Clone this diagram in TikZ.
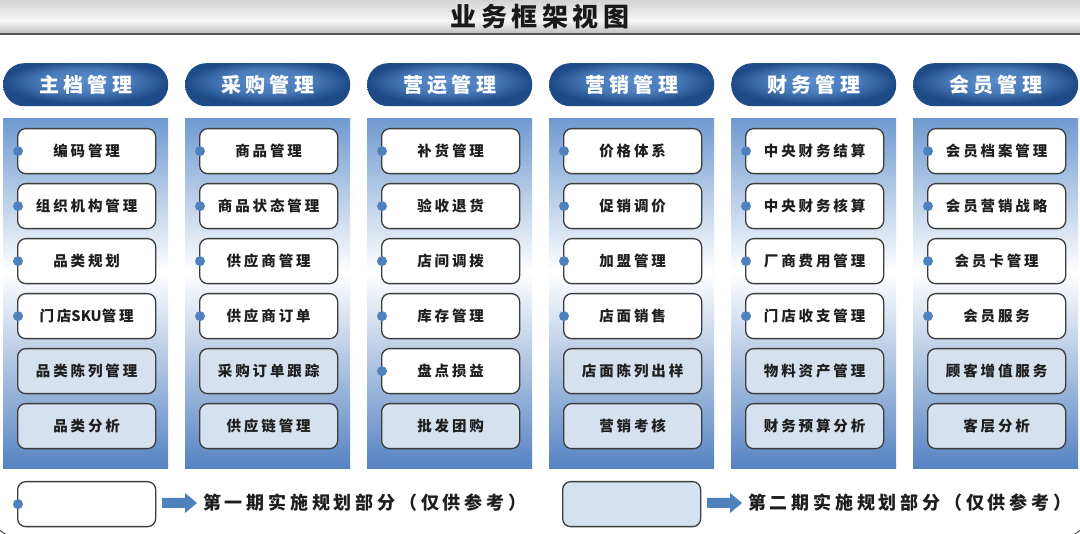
\documentclass[tikz,border=0pt]{standalone}
\usepackage{fontspec}
\setmainfont{Noto Sans CJK SC}
\newfontfamily\titlefont[LetterSpace=17]{Noto Sans CJK SC}
\newfontfamily\hdrfont[LetterSpace=22]{Noto Sans CJK SC}
\newfontfamily\itemfont[LetterSpace=20]{Noto Sans CJK SC}
\newfontfamily\latinfont{Noto Sans CJK SC}
\newfontfamily\legfont[LetterSpace=21]{Noto Sans CJK SC}
\usetikzlibrary{calc}
\definecolor{pilllight}{HTML}{5A8DCC}
\definecolor{pilldark}{HTML}{1E4B88}
\definecolor{paneltop}{HTML}{6F9AD0}
\definecolor{panelbot}{HTML}{5683C2}
\definecolor{phase2}{HTML}{D6E1F0}
\definecolor{dotblue}{HTML}{4F81BD}
\definecolor{boxline}{HTML}{3C3C3C}
\definecolor{itemtext}{HTML}{1E1E1E}
\definecolor{bartop}{HTML}{D4D4D4}
\definecolor{barmid}{HTML}{F6F6F6}
\definecolor{barbot}{HTML}{BEBEBE}
\definecolor{framegray}{HTML}{555555}
\pgfdeclareverticalshading{panelshade}{100bp}{color(0bp)=(panelbot); color(25bp)=(panelbot); color(53bp)=(white); color(75bp)=(paneltop); color(100bp)=(paneltop)}
\pgfdeclareverticalshading{barshade}{100bp}{color(0bp)=(barbot); color(25bp)=(barbot); color(45bp)=(barmid); color(75bp)=(bartop); color(100bp)=(bartop)}
\pgfdeclareradialshading{pillshade}{\pgfpoint{0bp}{6bp}}{color(0bp)=(pilllight); color(14bp)=(pilllight!70!pilldark); color(25bp)=(pilldark); color(50bp)=(pilldark)}
\begin{document}
\begin{tikzpicture}[x=1pt,y=-1pt,
  titlebar/.style={rectangle, minimum width=1080pt, minimum height=34pt, inner sep=0pt, shading=barshade},
  titletext/.style={font=\titlefont\bfseries\fontsize{26}{30}\selectfont, text=black!90, inner sep=0pt},
  pill/.style={rectangle, rounded corners=21pt, minimum width=165pt, minimum height=43pt, inner sep=0pt, anchor=north west, shading=pillshade, text=white, font=\hdrfont\bfseries\fontsize{20}{24}\selectfont},
  panel/.style={rectangle, minimum width=165pt, minimum height=350pt, inner sep=0pt, anchor=north west, shading=panelshade},
  item/.style={rectangle, rounded corners=8pt, draw=boxline, line width=1.3pt, minimum width=138pt, minimum height=45pt, inner sep=0pt, anchor=north west, text=itemtext, font=\itemfont\bfseries\fontsize{14.5}{17}\selectfont},
  legtext/.style={anchor=west, inner sep=0pt, text=itemtext, font=\legfont\bfseries\fontsize{18}{22}\selectfont},
  blockarrow/.style={fill=dotblue}
]
\useasboundingbox (0,0) rectangle (1080,534);
\fill[white] (0,0) rectangle (1080,534);
% title bar
\node[titlebar] (bar) at (540,17) {};
\draw[line width=1.5pt, draw=framegray] (bar.south west) -- (bar.south east);
\node[titletext] (title) at (540,17) {业务框架视图};
% columns
\foreach \hd/\n/\items [count=\i from 0] in {
  主档管理/4/{编码管理,组织机构管理,品类规划,门店{\latinfont\bfseries SKU}管理,品类陈列管理,品类分析},
  采购管理/4/{商品管理,商品状态管理,供应商管理,供应商订单,采购订单跟踪,供应链管理},
  营运管理/5/{补货管理,验收退货,店间调拨,库存管理,盘点损益,批发团购},
  营销管理/4/{价格体系,促销调价,加盟管理,店面销售,店面陈列出样,营销考核},
  财务管理/4/{中央财务结算,中央财务核算,厂商费用管理,门店收支管理,物料资产管理,财务预算分析},
  会员管理/4/{会员档案管理,会员营销战略,会员卡管理,会员服务,顾客增值服务,客层分析}}
{
  \pgfmathsetmacro\cx{3+182*\i}
  \node[pill] (h\i) at (\cx,63) {\hd};
  \node[panel] (p\i) at (\cx,118) {};
  \foreach \t [count=\k from 0] in \items {
    \pgfmathsetmacro\by{128+55*\k}
    \ifnum\k<\n\relax
      \node[item, fill=white] (b\i-\k) at ({\cx+14},\by) {\t};
      \fill[dotblue] ($(b\i-\k.west)+(1,0)$) circle (5pt);
    \else
      \node[item, fill=phase2] (b\i-\k) at ({\cx+14},\by) {\t};
    \fi
  }
}
% legend
\node[item, fill=white] (leg1) at (17,481) {};
\fill[dotblue] ($(leg1.west)+(1,0)$) circle (5pt);
\fill[blockarrow] (162,498) -- (185,498) -- (185,493) -- (197,503) -- (185,513) -- (185,508) -- (162,508) -- cycle;
\node[legtext] (lt1) at (203,503) {第一期实施规划部分（仅供参考）};
\node[item, fill=phase2] (leg2) at (562,481) {};
\fill[blockarrow] (707,498) -- (730,498) -- (730,493) -- (742,503) -- (730,513) -- (730,508) -- (707,508) -- cycle;
\node[legtext] (lt2) at (748,503) {第二期实施规划部分（仅供参考）};
% outer frame
\draw[framegray, line width=1pt, rounded corners=30pt] (-10,-10) rectangle (1090,538);
\end{tikzpicture}
\end{document}
